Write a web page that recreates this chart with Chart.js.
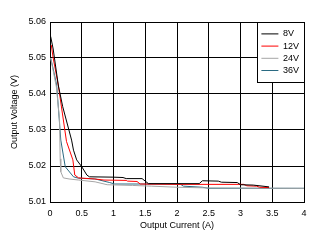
<!DOCTYPE html>
<html><head><meta charset="utf-8">
<script src="https://cdn.jsdelivr.net/npm/chart.js@4/dist/chart.umd.min.js"></script>
<style>html,body{margin:0;padding:0;background:#fff;overflow:hidden}</style>
</head><body>
<canvas id="c" width="321" height="243"></canvas>
<script>
const seriesNames = ['8V', '12V', '24V', '36V'];
const seriesColors = ['#000000', '#ff0000', '#a6a6a6', '#2a6a82'];

const x8  = [0.01, 0.05, 0.13, 0.20, 0.34, 0.37, 0.42, 0.50, 0.58, 0.62, 1.00, 1.15, 1.20, 1.45, 1.55, 2.35, 2.40, 2.65, 2.70, 2.95, 3.00, 3.20, 3.45];
const y8  = [5.0560, 5.0525, 5.0425, 5.0365, 5.0272, 5.0244, 5.0217, 5.0198, 5.0175, 5.0170, 5.0169, 5.0168, 5.0165, 5.0165, 5.0151, 5.0151, 5.0159, 5.0158, 5.0155, 5.0154, 5.0148, 5.0147, 5.0142];

const x12 = [0.02, 0.05, 0.13, 0.26, 0.36, 0.39, 0.45, 0.70, 0.85, 1.20, 1.22, 1.37, 1.42, 2.05, 3.05, 3.10, 3.25, 3.30, 3.45];
const y12 = [5.0536, 5.0500, 5.0425, 5.0268, 5.0217, 5.0175, 5.0167, 5.0164, 5.0161, 5.0160, 5.0158, 5.0157, 5.0150, 5.0149, 5.0149, 5.0145, 5.0144, 5.0141, 5.0140];

const x24 = [0.01, 0.05, 0.10, 0.15, 0.16, 0.17, 0.21, 0.30, 0.45, 0.71, 0.90, 1.30, 1.60, 2.00, 2.50, 4.00];
const y24 = [5.0500, 5.0465, 5.0420, 5.0330, 5.0220, 5.0184, 5.0167, 5.0164, 5.0161, 5.0156, 5.0148, 5.0146, 5.0144, 5.0141, 5.0139, 5.0138];

const x36 = [0.01, 0.05, 0.105, 0.17, 0.24, 0.37, 0.45, 0.71, 0.94, 1.02, 2.05, 2.10, 2.40, 2.50, 4.00];
const y36 = [5.0500, 5.0470, 5.0425, 5.0272, 5.0198, 5.0170, 5.0166, 5.0164, 5.0154, 5.0150, 5.0150, 5.0144, 5.0141, 5.0138, 5.0138];

const xTicks = [0, 0.5, 1, 1.5, 2, 2.5, 3, 3.5, 4];
const xTickLabels = ['0', '0.5', '1', '1.5', '2', '2.5', '3', '3.5', '4'];
const yTicks = [5.01, 5.02, 5.03, 5.04, 5.05, 5.06];
const yTickLabels = ['5.01', '5.02', '5.03', '5.04', '5.05', '5.06'];

const xTitle = 'Output Current (A)';
const yTitle = 'Output Voltage (V)';

const allX = [x8, x12, x24, x36];
const allY = [y8, y12, y24, y36];

Chart.defaults.font.family = '"Liberation Sans", Arial, sans-serif';
Chart.defaults.font.size = 9;
Chart.defaults.color = '#000';

const datasets = seriesNames.map((name, i) => ({
  label: name,
  data: allX[i].map((x, j) => ({x: x, y: allY[i][j]})),
  borderColor: seriesColors[i],
  backgroundColor: seriesColors[i],
  borderWidth: 1,
  pointRadius: 0,
  showLine: true,
  tension: 0,
  fill: false
}));

const legendBoxPlugin = {
  id: 'legendBox',
  afterLayout(chart) {
    const lg = chart.legend;
    const ca = chart.chartArea;
    if (!lg) return;
    const boxL = ca.right - 47, boxT = ca.top, boxW = 47, boxH = 60;
    lg.left = boxL + 1.2;
    lg.top = boxT + 4.2;
    lg.right = ca.right;
    lg.bottom = boxT + boxH;
    lg.width = lg.right - lg.left;
    lg.height = lg.bottom - lg.top;
    if (!lg._boxPatched) {
      const orig = lg.draw.bind(lg);
      lg.draw = function (area) {
        const ctx = chart.ctx;
        const a = chart.chartArea;
        const L = Math.round(a.right - 47) + 0.5, T = Math.round(a.top) + 0.5;
        ctx.save();
        ctx.fillStyle = '#ffffff';
        ctx.fillRect(L, T, 47, 60);
        ctx.strokeStyle = '#000000';
        ctx.lineWidth = 1;
        ctx.strokeRect(L, T, 47, 60);
        ctx.restore();
        orig(area);
      };
      lg._boxPatched = true;
    }
  }
};

new Chart(document.getElementById('c'), {
  type: 'scatter',
  data: {datasets},
  plugins: [legendBoxPlugin],
  options: {
    responsive: false,
    animation: false,
    devicePixelRatio: 1,
    layout: {padding: {top: 22, right: 17, left: 0, bottom: 0}},
    plugins: {
      tooltip: {enabled: false},
      legend: {
        display: true,
        position: 'chartArea',
        align: 'start',
        labels: {
          usePointStyle: true,
          pointStyle: 'line',
          pointStyleWidth: 17,
          boxWidth: 17,
          boxHeight: 9,
          padding: 3.2,
          color: '#000',
          font: {size: 9}
        }
      }
    },
    scales: {
      x: {
        type: 'linear',
        min: 0, max: 4,
        afterBuildTicks: (s) => { s.ticks = xTicks.map(v => ({value: v})); },
        afterFit: (s) => { s.height = 41; },
        grid: {color: '#000', lineWidth: 1, drawTicks: false},
        border: {color: '#000', width: 1},
        ticks: {padding: 6.5, maxRotation: 0, autoSkip: false, color: '#000', font: {size: 9},
          callback: (v, i) => xTickLabels[i]},
        title: {display: true, text: xTitle, color: '#000', font: {size: 9}, padding: {top: 0, bottom: 11.6}}
      },
      y: {
        type: 'linear',
        min: 5.01, max: 5.06,
        afterBuildTicks: (s) => { s.ticks = yTicks.map(v => ({value: v})); },
        afterFit: (s) => { s.width = 50; },
        grid: {color: '#000', lineWidth: 1, drawTicks: false},
        border: {color: '#000', width: 1},
        ticks: {padding: 4, autoSkip: false, color: '#000', font: {size: 9},
          callback: (v, i) => yTickLabels[i]},
        title: {display: true, text: yTitle, color: '#000', font: {size: 9}, padding: {top: 9.6, bottom: 0}}
      }
    }
  }
});
</script>
</body></html>
